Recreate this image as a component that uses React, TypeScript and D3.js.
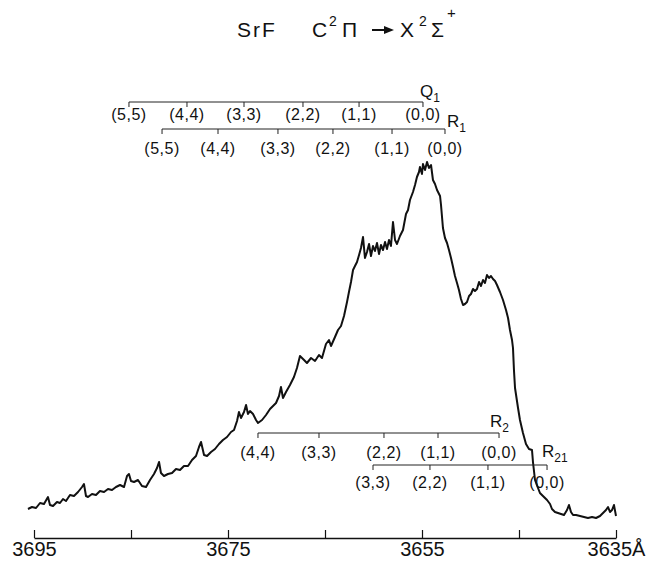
import React, { useEffect, useRef } from "react";
import * as d3 from "d3";

// trace of the emission spectrum (wavelength in Å, relative intensity)
const wavelength = [
  3695.62, 3695.21, 3694.79, 3694.38, 3693.97, 3693.56, 3693.35, 3693.04, 3692.63, 3692.32,
  3692.01, 3691.7, 3691.29, 3690.88, 3690.46, 3690.05, 3689.85, 3689.64, 3689.43, 3689.02,
  3688.61, 3688.2, 3687.78, 3687.37, 3686.96, 3686.55, 3686.13, 3685.72, 3685.41, 3685.21,
  3685.0, 3684.69, 3684.28, 3683.87, 3683.45, 3683.04, 3682.63, 3682.32, 3682.11, 3681.91,
  3681.6, 3681.19, 3680.77, 3680.36, 3679.95, 3679.54, 3679.12, 3678.71, 3678.3, 3677.99,
  3677.78, 3677.47, 3677.16, 3676.75, 3676.34, 3675.93, 3675.52, 3675.1, 3674.69, 3674.38,
  3674.07, 3673.87, 3673.66, 3673.35, 3673.14, 3672.94, 3672.73, 3672.42, 3672.11, 3671.91,
  3671.49, 3671.08, 3670.67, 3670.36, 3670.05, 3669.74, 3669.54, 3669.33, 3669.02, 3668.61,
  3668.2, 3667.89, 3667.58, 3667.16, 3666.86, 3666.44, 3666.03, 3665.62, 3665.31, 3664.9,
  3664.59, 3664.38, 3663.97, 3663.66, 3663.35, 3663.04, 3662.73, 3662.53, 3662.32, 3662.11,
  3661.91, 3661.7, 3661.49, 3661.29, 3661.08, 3660.88, 3660.67, 3660.46, 3660.26, 3660.05,
  3659.85, 3659.64, 3659.43, 3659.23, 3659.02, 3658.81, 3658.61, 3658.4, 3658.2, 3657.99,
  3657.78, 3657.58, 3657.27, 3656.96, 3656.65, 3656.44, 3656.24, 3655.93, 3655.72, 3655.52,
  3655.31, 3655.21, 3655.0, 3654.9, 3654.69, 3654.48, 3654.28, 3654.07, 3653.87, 3653.66,
  3653.45, 3653.14, 3653.04, 3652.84, 3652.63, 3652.42, 3652.22, 3652.01, 3651.8, 3651.6,
  3651.39, 3651.19, 3650.98, 3650.77, 3650.57, 3650.36, 3650.15, 3649.95, 3649.74, 3649.54,
  3649.33, 3649.12, 3648.92, 3648.71, 3648.51, 3648.3, 3648.09, 3647.89, 3647.68, 3647.47,
  3647.27, 3646.96, 3646.65, 3646.34, 3646.13, 3645.93, 3645.72, 3645.62, 3645.52, 3645.41,
  3645.1, 3644.9, 3644.59, 3644.28, 3643.97, 3643.66, 3643.56, 3643.35, 3643.04, 3642.84,
  3642.53, 3642.11, 3641.8, 3641.6, 3641.29, 3640.98, 3640.67, 3640.36, 3640.05, 3639.85,
  3639.64, 3639.43, 3639.12, 3638.71, 3638.3, 3637.89, 3637.47, 3637.06, 3636.65, 3636.34,
  3636.03, 3635.82, 3635.62, 3635.41, 3635.21, 3635.0
];
const intensity = [
  7, 7.5, 7.25, 8.5, 8.25, 10, 8, 7.75, 8.75, 8.5,
  9.5, 9, 10.5, 10.25, 11.25, 12.5, 13.25, 10.25, 10, 10.75,
  10.5, 11.5, 11.25, 12, 11.75, 12.5, 13, 12.5, 15.25, 15.75,
  14, 13.75, 14.25, 12.75, 12.5, 14.25, 15.75, 17.25, 18.75, 16,
  15.25, 15.75, 16, 17, 16.75, 17.75, 17.75, 19.25, 20.25, 22.5,
  23.75, 20.5, 20.25, 21.25, 22, 23.25, 24.25, 25, 26.25, 26.75,
  29, 31.25, 29.75, 31.25, 33, 30.75, 31.5, 30.75, 29.25, 28.5,
  29.25, 30.5, 32, 32.75, 33.5, 35.25, 37.5, 34.75, 36.25, 38,
  40, 42.25, 45.25, 44.25, 43.5, 44.75, 44, 45.5, 44.75, 48.25,
  49.25, 47.75, 50, 51.75, 52.75, 55.25, 58.75, 61.25, 63.75, 66.75,
  67.75, 68.75, 70.5, 72.25, 75, 69.75, 71.25, 73.25, 70.25, 72.75,
  71.5, 73.5, 70.75, 73, 71.75, 73.75, 72, 74.25, 72.75, 78.75,
  74.25, 73.25, 75.25, 76.75, 80.75, 81.75, 84.25, 86.25, 88, 90,
  91.25, 92.5, 90.75, 93.25, 91.75, 93.75, 92.25, 93, 89.25, 88.25,
  86.75, 85.25, 83, 77.25, 74.75, 73.5, 71.75, 69.75, 67.5, 65.25,
  63.5, 61.75, 59.5, 58, 58.25, 58.75, 60.25, 60.75, 62, 61.5,
  62, 63.75, 62.75, 64.25, 63.5, 65.5, 64.75, 65.25, 64.5, 64,
  63, 61.25, 59.25, 56.75, 54.75, 51.75, 49.25, 47.25, 41.75, 37.25,
  32.25, 29.25, 26, 23.25, 22, 21.75, 18.75, 14.25, 12.25, 11,
  10.25, 9.25, 8.25, 7, 6.25, 6, 5.75, 5.5, 6.75, 8,
  6.25, 5.5, 5.5, 5.25, 5, 4.75, 5, 4.75, 5.25, 6,
  6.75, 7.5, 6.25, 6.75, 8, 5.25
];

// band head assignments
const q1Heads = [3685.21, 3679.23, 3673.35, 3667.27, 3661.49, 3654.9];
const q1Labels = ["(5,5)", "(4,4)", "(3,3)", "(2,2)", "(1,1)", "(0,0)"];
const r1Heads = [3681.8, 3676.03, 3669.85, 3664.18, 3658.09, 3652.63];
const r1Labels = ["(5,5)", "(4,4)", "(3,3)", "(2,2)", "(1,1)", "(0,0)"];
const r2Heads = [3671.91, 3665.62, 3658.92, 3653.35, 3647.06];
const r2Labels = ["(4,4)", "(3,3)", "(2,2)", "(1,1)", "(0,0)"];
const r21Heads = [3660.05, 3654.18, 3648.2, 3642.11];
const r21Labels = ["(3,3)", "(2,2)", "(1,1)", "(0,0)"];

const axisTicks = [3695, 3685, 3675, 3665, 3655, 3645, 3635];
const axisLabels = ["3695", "", "3675", "", "3655", "", "3635Å"];

const font = "'Liberation Sans', Arial, sans-serif";

export default function App() {
  const ref = useRef<SVGSVGElement>(null);

  useEffect(() => {
    const width = 649;
    const height = 563;
    const svg = d3.select(ref.current);
    svg.selectAll("*").remove();
    svg.attr("width", width).attr("height", height);

    svg.append("rect").attr("width", width).attr("height", height).attr("fill", "#fff");

    const x = d3.scaleLinear().domain([3695, 3635]).range([34, 616]);
    const y = d3.scaleLinear().domain([0, 100]).range([537, 137]);
    const axisY = 538;

    // title
    const title = svg.append("g").style("font-family", font).attr("fill", "#111");
    title.append("text").attr("x", 237).attr("y", 37).style("font-size", "21px")
      .style("letter-spacing", "2px").text("SrF");
    const t2 = title.append("text").attr("y", 37).style("font-size", "21px");
    t2.append("tspan").attr("x", 312).text("C");
    t2.append("tspan").attr("x", 329).attr("y", 26).style("font-size", "14px").text("2");
    t2.append("tspan").attr("x", 342).attr("y", 37).text("Π");
    t2.append("tspan").attr("x", 400).attr("y", 37).text("X");
    t2.append("tspan").attr("x", 419).attr("y", 26).style("font-size", "14px").text("2");
    t2.append("tspan").attr("x", 431).attr("y", 37).text("Σ");
    t2.append("tspan").attr("x", 447).attr("y", 18).style("font-size", "15px").text("+");
    title.append("line").attr("x1", 372).attr("x2", 386).attr("y1", 30).attr("y2", 30)
      .attr("stroke", "#111").attr("stroke-width", 2);
    title.append("path").attr("d", "M384,26 L394,30 L384,34 Z").attr("fill", "#111");

    // spectrum trace
    const pts = wavelength.map((w, i) => [w, intensity[i]] as [number, number]);
    const line = d3.line<[number, number]>().x((d) => x(d[0])).y((d) => y(d[1]));
    svg.append("path").datum(pts).attr("d", line).attr("fill", "none")
      .attr("stroke", "#111").attr("stroke-width", 2).attr("stroke-linejoin", "round");

    // bracket assignments
    const drawBracket = (heads: number[], labels: string[], lineY: number, labelY: number) => {
      const g = svg.append("g");
      g.append("line").attr("x1", x(heads[0])).attr("x2", x(heads[heads.length - 1]))
        .attr("y1", lineY).attr("y2", lineY).attr("stroke", "#222").attr("stroke-width", 1);
      g.selectAll("line.tick").data(heads).join("line").attr("class", "tick")
        .attr("x1", (d) => x(d)).attr("x2", (d) => x(d))
        .attr("y1", lineY).attr("y2", lineY + 5).attr("stroke", "#222").attr("stroke-width", 1);
      g.selectAll("text").data(labels).join("text")
        .attr("x", (d, i) => x(heads[i])).attr("y", labelY).attr("text-anchor", "middle")
        .style("font-family", font).style("font-size", "16px").style("letter-spacing", "0.5px")
        .attr("fill", "#111").text((d) => d);
    };
    drawBracket(q1Heads, q1Labels, 102, 120);
    drawBracket(r1Heads, r1Labels, 129, 154);
    drawBracket(r2Heads, r2Labels, 433, 458);
    drawBracket(r21Heads, r21Labels, 465, 488);

    const branchLabel = (name: string, sub: string, px: number, py: number) => {
      const t = svg.append("text").attr("x", px).attr("y", py)
        .style("font-family", font).style("font-size", "17px").attr("fill", "#111");
      t.append("tspan").text(name);
      t.append("tspan").attr("dy", 5).style("font-size", "12px").text(sub);
    };
    branchLabel("Q", "1", 420, 97);
    branchLabel("R", "1", 447, 127);
    branchLabel("R", "2", 490, 427);
    branchLabel("R", "21", 542, 457);

    // wavelength axis
    const axis = d3.axisBottom(x).tickValues(axisTicks)
      .tickFormat((d, i) => axisLabels[i]).tickSizeInner(-8).tickSizeOuter(0).tickPadding(4);
    const ag = svg.append("g").attr("transform", `translate(0, ${axisY})`).call(axis);
    ag.select(".domain").attr("stroke", "#111").attr("stroke-width", 1.5);
    ag.selectAll(".tick line").attr("stroke", "#111").attr("stroke-width", 1.2);
    ag.selectAll(".tick text").style("font-family", font).style("font-size", "20px").attr("fill", "#111");
  }, []);

  return <svg ref={ref} style={{ display: "block", position: "absolute", left: 0, top: 0 }} />;
}
